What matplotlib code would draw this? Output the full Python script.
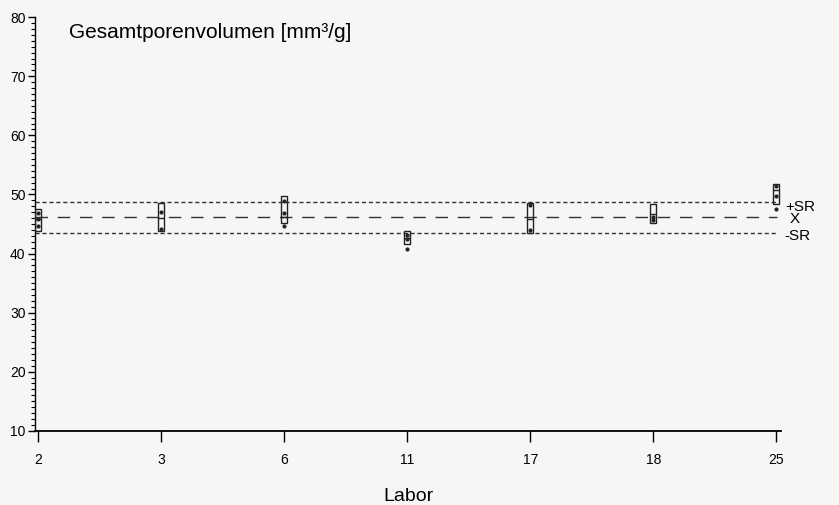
import matplotlib.pyplot as plt
import numpy as np

# Labore und Kennwerte
labs = ["2", "3", "6", "11", "17", "18", "25"]
box_low = [43.8, 43.8, 45.2, 41.6, 43.4, 45.1, 48.4]
box_high = [47.5, 48.5, 49.7, 43.8, 48.5, 48.4, 51.8]
median = [45.8, 46.0, 46.2, 42.7, 45.8, 46.7, 50.8]
points = [
    [46.8, 45.8, 44.6],
    [47.0, 44.1],
    [48.9, 46.8, 44.7],
    [43.1, 42.4, 40.7],
    [48.2, 44.0],
    [45.7, 46.2],
    [51.5, 49.8, 47.6],
]
plus_sr = 48.8
mean_x = 46.2
minus_sr = 43.5

plt.rcParams["font.family"] = ["Liberation Sans", "DejaVu Sans"]

bg = "#f6f6f4"
fig = plt.figure(figsize=(8.39, 5.05), dpi=100, facecolor=bg)
ax = fig.add_axes([0.042, 0.147, 0.889, 0.819])
ax.set_facecolor(bg)

x = np.arange(len(labs))

# Referenzlinien
ax.axhline(plus_sr, xmax=0.995, color="#333333", lw=1.0, ls=(0, (3, 2)))
ax.axhline(mean_x, xmax=0.995, color="#333333", lw=1.0, ls=(0, (9, 7)))
ax.axhline(minus_sr, xmax=0.995, color="#333333", lw=1.0, ls=(0, (3, 2)))
ax.text(1.005, plus_sr - 0.9, "+SR", transform=ax.get_yaxis_transform(), fontsize=11, va="center")
ax.text(1.012, mean_x - 0.4, "X", transform=ax.get_yaxis_transform(), fontsize=11, va="center")
ax.text(1.005, minus_sr - 0.5, "-SR", transform=ax.get_yaxis_transform(), fontsize=11, va="center")

# Boxen
ax.bar(x, np.array(box_high) - np.array(box_low), bottom=box_low, width=0.05,
       fill=False, edgecolor="#222222", lw=1.0, zorder=3)
ax.hlines(median, x - 0.025, x + 0.025, color="#222222", lw=1.0, zorder=3)
for xi, pts in zip(x, points):
    ax.scatter([xi] * len(pts), pts, s=4, color="#222222", zorder=4)

ax.set_xlim(-0.025, 6.04)
ax.set_ylim(10, 80)
ax.set_xticks(x)
ax.set_xticklabels(labs)
ax.set_yticks(np.arange(10, 81, 10))
ax.set_yticks(np.arange(10, 81, 1), minor=True)

ax.spines["top"].set_visible(False)
ax.spines["right"].set_visible(False)
ax.spines["left"].set_linewidth(1.0)
ax.spines["bottom"].set_linewidth(1.3)
ax.tick_params(axis="x", length=8, width=1.0, pad=8, labelsize=10)
ax.tick_params(axis="y", which="major", length=5, width=1.0, pad=2, labelsize=10)
ax.tick_params(axis="y", which="minor", length=3, width=0.8)

ax.text(0.045, 0.985, "Gesamtporenvolumen [mm³/g]", transform=ax.transAxes,
        fontsize=15, va="top", ha="left")
ax.set_xlabel("Labor", fontsize=14, labelpad=15)

fig.savefig("out.png", dpi=100, facecolor=fig.get_facecolor())
